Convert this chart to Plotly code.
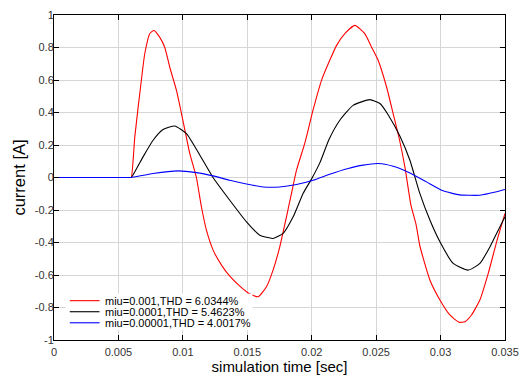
import plotly.graph_objects as go

# ---- data ----
t_red = [0, 0.0059, 0.006, 0.00627, 0.00678, 0.00704, 0.00743, 0.00776, 0.0082, 0.0086, 0.00898,
         0.0095, 0.00989, 0.01054, 0.01105, 0.01144, 0.01183, 0.01235, 0.013, 0.01364,
         0.01442, 0.0152, 0.01584, 0.01649, 0.017, 0.01752, 0.01804, 0.01843, 0.01882,
         0.01946, 0.0201, 0.02076, 0.0214, 0.02193, 0.02257, 0.02335, 0.02412, 0.02464,
         0.02516, 0.02581, 0.02632, 0.02679, 0.02723, 0.0277, 0.0281, 0.02839, 0.02917,
         0.02995, 0.03072, 0.03144, 0.03189, 0.0324, 0.03305, 0.0337, 0.03435, 0.035]
i_red = [0, 0, 0, 0.25, 0.60, 0.76, 0.885, 0.905, 0.864, 0.80, 0.68,
         0.537, 0.395, 0.147, 0.0, -0.18, -0.324, -0.447, -0.539, -0.607,
         -0.668, -0.717, -0.734, -0.672, -0.57, -0.427, -0.242, -0.098, 0.045,
         0.21, 0.414, 0.598, 0.721, 0.813, 0.885, 0.936, 0.885, 0.803,
         0.72, 0.557, 0.393, 0.24, 0.065, -0.17, -0.29, -0.42, -0.631,
         -0.754, -0.846, -0.891, -0.887, -0.846, -0.754, -0.59, -0.396, -0.221]

t_black = [0, 0.0059, 0.006, 0.00691, 0.00769, 0.00846, 0.00937, 0.01028, 0.0113, 0.01234,
           0.01364, 0.01494, 0.01597, 0.017, 0.01778, 0.01856, 0.01933, 0.01998,
           0.02063, 0.02135, 0.02218, 0.02321, 0.02451, 0.02529, 0.02594, 0.02684,
           0.02762, 0.02839, 0.02917, 0.02995, 0.03098, 0.03214, 0.03305, 0.03383,
           0.0346, 0.035]
i_black = [0, 0, 0, 0.127, 0.229, 0.295, 0.317, 0.27, 0.14, 0.0,
           -0.14, -0.273, -0.355, -0.375, -0.344, -0.242, -0.098, -0.01,
           0.09, 0.235, 0.352, 0.444, 0.479, 0.455, 0.385, 0.255,
           0.106, -0.098, -0.262, -0.396, -0.529, -0.57, -0.529, -0.427,
           -0.304, -0.242]

t_blue = [0, 0.0059, 0.006, 0.00769, 0.00963, 0.01105, 0.01234, 0.01364, 0.01494, 0.01623,
          0.01752, 0.01882, 0.02011, 0.0214, 0.02283, 0.02399, 0.02516, 0.02632,
          0.02762, 0.02891, 0.0302, 0.0315, 0.03305, 0.03435, 0.035]
i_blue = [0, 0, 0, 0.025, 0.041, 0.03, 0.01, -0.017, -0.04, -0.058,
          -0.058, -0.043, -0.017, 0.02, 0.055, 0.076, 0.086, 0.069,
          0.028, -0.027, -0.082, -0.107, -0.109, -0.088, -0.074]

names = ["miu=0.001,THD = 6.0344%", "miu=0.0001,THD = 5.4623%", "miu=0.00001,THD = 4.0017%"]
colors = ["#ff0000", "#000000", "#0000ff"]

x_ticks = [0, 0.005, 0.01, 0.015, 0.02, 0.025, 0.03, 0.035]
x_ticklabels = ["0", "0.005", "0.01", "0.015", "0.02", "0.025", "0.03", "0.035"]
y_ticks = [-1, -0.8, -0.6, -0.4, -0.2, 0, 0.2, 0.4, 0.6, 0.8, 1]
y_ticklabels = ["-1", "-0.8", "-0.6", "-0.4", "-0.2", "0", "0.2", "0.4", "0.6", "0.8", "1"]

font = "Liberation Sans, Arial, sans-serif"

fig = go.Figure()
for tx, iy, nm, c in [(t_red, i_red, names[0], colors[0]),
                      (t_black, i_black, names[1], colors[1]),
                      (t_blue, i_blue, names[2], colors[2])]:
    fig.add_trace(go.Scatter(x=tx, y=iy, mode="lines", name=nm, showlegend=False,
                             line=dict(color=c, width=1.1, shape="spline", smoothing=0.5)))

axis_common = dict(showline=True, linecolor="black", linewidth=1, mirror="ticks",
                   ticks="inside", ticklen=5, tickcolor="black",
                   showgrid=True, gridcolor="#d6d6d6", gridwidth=1, zeroline=False,
                   automargin=False,
                   tickfont=dict(family=font, size=11, color="#333333"))

fig.update_xaxes(range=[0, 0.035], tickmode="array", tickvals=x_ticks, ticktext=x_ticklabels,
                 ticklabelstandoff=2,
                 title=dict(text="simulation time [sec]", font=dict(family=font, size=15, color="black"),
                            standoff=0),
                 **axis_common)
fig.update_yaxes(range=[-1, 1], tickmode="array", tickvals=y_ticks, ticktext=y_ticklabels,
                 ticklabelstandoff=-3,
                 title=dict(text="current [A]", font=dict(family=font, size=16.5, color="black"),
                            standoff=5),
                 **axis_common)

# compact legend drawn inside the plot (bottom-left), like the reference
leg_x0, leg_x1 = 0.026, 0.44
leg_y0, leg_y1 = 0.030, 0.142
line_x0, line_x1, text_x = 0.035, 0.101, 0.108
row_y = [0.121, 0.087, 0.053]
shapes = [dict(type="rect", xref="paper", yref="paper", x0=leg_x0, x1=leg_x1, y0=leg_y0, y1=leg_y1,
               fillcolor="white", line=dict(width=0), layer="above")]
annotations = []
for nm, c, yy in zip(names, colors, row_y):
    shapes.append(dict(type="line", xref="paper", yref="paper", x0=line_x0, x1=line_x1, y0=yy, y1=yy,
                       line=dict(color=c, width=1.1), layer="above"))
    annotations.append(dict(xref="paper", yref="paper", x=text_x, y=yy, text=nm, showarrow=False,
                            xanchor="left", yanchor="middle",
                            font=dict(family=font, size=11, color="black")))

fig.update_layout(
    width=523, height=376,
    margin=dict(l=54, r=18, t=15, b=36),
    paper_bgcolor="white", plot_bgcolor="white",
    font=dict(family=font),
    showlegend=False,
    shapes=shapes,
    annotations=annotations,
)

fig.write_html("out.html", config={"displayModeBar": False},
               post_script="document.body.style.margin='0';document.body.style.padding='0';"
                           "document.body.style.overflow='hidden';")
